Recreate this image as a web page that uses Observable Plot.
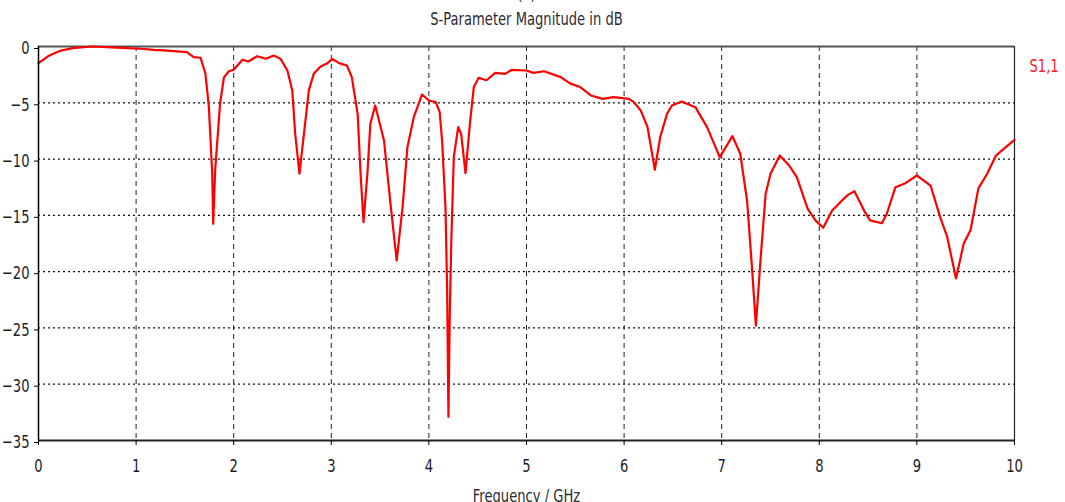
<!DOCTYPE html>
<html>
<head>
<meta charset="utf-8">
<script src="https://cdn.jsdelivr.net/npm/d3@7"></script>
<script src="https://cdn.jsdelivr.net/npm/@observablehq/plot@0.6"></script>
<style>
  html, body { margin: 0; padding: 0; background: #fff; }
  #chart { width: 1065px; height: 502px; overflow: hidden; }
</style>
</head>
<body>
<div id="chart"></div>
<script>
// Frequency in GHz
const freq = [
  0, 0.1, 0.23, 0.35, 0.55, 0.7, 0.91, 1.05, 1.18, 1.32, 1.45, 1.52, 1.59, 1.66,
  1.71, 1.745, 1.78, 1.79, 1.81, 1.86, 1.9, 1.95, 2.0, 2.09, 2.15, 2.24, 2.33, 2.41,
  2.48, 2.55, 2.6, 2.63, 2.674, 2.72, 2.77, 2.82, 2.89, 2.96, 3.01, 3.08, 3.16, 3.21,
  3.27, 3.30, 3.33, 3.37, 3.40, 3.45, 3.54, 3.61, 3.67, 3.73, 3.78, 3.845, 3.93, 4.0,
  4.07, 4.11, 4.135, 4.17, 4.187, 4.20, 4.214, 4.23, 4.255, 4.30, 4.33, 4.375, 4.42,
  4.46, 4.51, 4.59, 4.68, 4.78, 4.85, 5.0, 5.07, 5.18, 5.35, 5.45, 5.55, 5.66, 5.78,
  5.89, 6.05, 6.10, 6.17, 6.24, 6.315, 6.37, 6.44, 6.49, 6.59, 6.73, 6.85, 6.98, 7.11,
  7.19, 7.26, 7.31, 7.35, 7.40, 7.45, 7.50, 7.595, 7.69, 7.77, 7.88, 7.96, 8.04, 8.13,
  8.22, 8.29, 8.36, 8.46, 8.52, 8.64, 8.69, 8.78, 8.87, 9.0, 9.14, 9.24, 9.31, 9.40,
  9.48, 9.55, 9.63, 9.72, 9.81, 9.89, 10.0
];
// S1,1 magnitude in dB
const s11 = [
  -1.48, -0.85, -0.36, -0.15, 0.0, -0.05, -0.15, -0.2, -0.3, -0.36, -0.45, -0.5, -0.95, -1.0,
  -2.4, -5.3, -11.3, -15.75, -11.0, -5.1, -2.74, -2.2, -2.07, -1.18, -1.33, -0.86, -1.09, -0.8,
  -1.1, -2.13, -3.9, -7.75, -11.3, -7.75, -3.9, -2.43, -1.78, -1.48, -1.1, -1.48, -1.69, -2.72,
  -5.98, -11.3, -15.6, -11.3, -6.87, -5.24, -8.35, -14.27, -19.0, -14.3, -8.94, -6.28, -4.26, -4.8,
  -4.94, -5.8, -8.35, -14.3, -21.7, -32.9, -23.7, -17.2, -9.83, -7.16, -7.75, -11.25, -6.87,
  -3.6, -2.78, -3.0, -2.34, -2.43, -2.07, -2.13, -2.34, -2.2, -2.72, -3.3, -3.6, -4.35, -4.65,
  -4.5, -4.65, -4.94, -5.68, -7.16, -10.95, -8.05, -5.98, -5.24, -4.88, -5.39, -7.16, -9.83, -7.96,
  -9.53, -13.7, -19.6, -24.8, -18.7, -13.1, -11.3, -9.68, -10.57, -11.6, -14.4, -15.45, -16.1, -14.6,
  -13.8, -13.2, -12.85, -14.6, -15.45, -15.7, -14.9, -12.5, -12.2, -11.46, -12.35, -15.2, -16.9, -20.6,
  -17.5, -16.3, -12.6, -11.3, -9.68, -9.09, -8.3
];
const xTicks = [0, 1, 2, 3, 4, 5, 6, 7, 8, 9, 10];
const yTicks = [-35, -30, -25, -20, -15, -10, -5, 0];
const xGrid = [1, 2, 3, 4, 5, 6, 7, 8, 9];
const yGrid = [-30, -25, -20, -15, -10, -5];
const titleText = "S-Parameter Magnitude in dB";
const xLabelText = "Frequency / GHz";
const seriesName = "S1,1";

const data = freq.map((f, i) => ({f, db: s11[i]}));

const font = "'DejaVu Sans Condensed', 'DejaVu Sans', sans-serif";

const chart = Plot.plot({
  width: 1065,
  height: 502,
  marginLeft: 38,
  marginRight: 51,
  marginTop: 46,
  marginBottom: 62,
  style: {fontFamily: font, fontSize: "18px", background: "#fff", color: "#1c1c28", overflow: "visible"},
  x: {domain: [0, 10], ticks: xTicks, label: null},
  y: {domain: [-35, 0], ticks: yTicks, label: null},
  marks: [
    Plot.ruleX(xGrid, {stroke: "#222", strokeWidth: 1, strokeDasharray: "5,4"}),
    Plot.ruleY(yGrid, {stroke: "#111", strokeWidth: 1.2, strokeDasharray: "2,3"}),
    Plot.ruleY([0], {stroke: "#555", strokeWidth: 2}),
    Plot.ruleX([10], {stroke: "#222", strokeWidth: 1.2}),
    Plot.line(data, {x: "f", y: "db", stroke: "#ff0000", strokeWidth: 2.2, curve: "linear"}),
    Plot.ruleX([0], {stroke: "#000", strokeWidth: 1.5}),
    Plot.ruleY([-35], {stroke: "#222", strokeWidth: 2}),
    Plot.axisX({ticks: xTicks, tickSize: 5, tickPadding: 14, fontSize: 18, stroke: "#000", label: null}),
    Plot.axisY({ticks: yTicks, tickSize: 4, tickPadding: 5, fontSize: 18, dy: 2, stroke: "#000", label: null}),
    Plot.text([titleText], {frameAnchor: "top", dy: -34, fontSize: 18, fill: "#2a2a33", text: d => d}),
    Plot.text(["(a)"], {frameAnchor: "top", dy: -59, fontSize: 18, fill: "#2a2a33", text: d => d}),
    Plot.text([xLabelText], {frameAnchor: "bottom", dy: 61, fontSize: 18, fill: "#2a2a33", text: d => d}),
    Plot.text([seriesName], {frameAnchor: "top-right", dx: 15, dy: 13, textAnchor: "start", fontSize: 18, fill: "#ff2020", text: d => d})
  ]
});
document.getElementById("chart").appendChild(chart);

// Condense glyphs horizontally to match the narrow font of the reference.
const squeeze = 0.81;
chart.querySelectorAll("text").forEach(t => {
  const spans = t.querySelectorAll("tspan");
  const targets = spans.length ? Array.from(spans) : [t];
  targets.forEach(el => {
    const len = el.getComputedTextLength();
    if (len > 0) {
      el.setAttribute("textLength", (len * squeeze).toFixed(2));
      el.setAttribute("lengthAdjust", "spacingAndGlyphs");
    }
  });
});
</script>
</body>
</html>
